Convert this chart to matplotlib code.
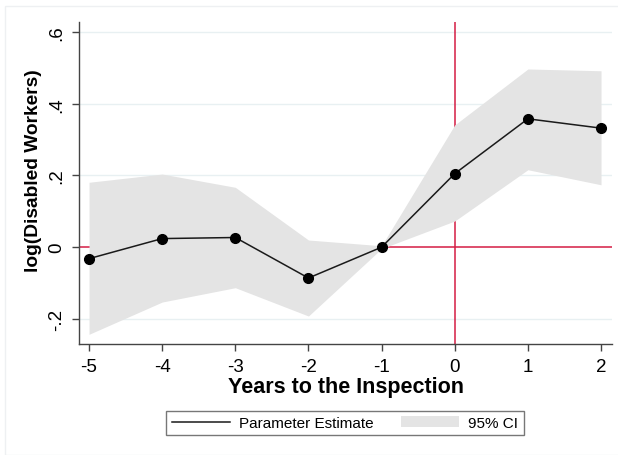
import numpy as np
import matplotlib as mpl
mpl.use('Agg')
from matplotlib import pyplot as plt
from matplotlib.patches import Patch
from matplotlib.lines import Line2D

# ------------------- Data -------------------
years = [-5, -4, -3, -2, -1, 0, 1, 2]
estimate = [-0.032, 0.024, 0.027, -0.086, 0.0, 0.205, 0.358, 0.332]
ci_upper = [0.181, 0.204, 0.167, 0.020, 0.004, 0.341, 0.497, 0.492]
ci_lower = [-0.243, -0.153, -0.113, -0.192, -0.004, 0.073, 0.216, 0.174]
ytick_vals = [-0.2, 0, 0.2, 0.4, 0.6]
ytick_labels = ['-.2', '0', '.2', '.4', '.6']

plt.rcParams['font.family'] = ['Liberation Sans', 'DejaVu Sans']

fig = plt.figure(figsize=(6.18, 4.56), dpi=100)
fig.patch.set_facecolor('white')
# faint outer graph region frame
fig.add_artist(plt.Rectangle((5 / 618, 0.0), 1.0, 1 - 7 / 456, transform=fig.transFigure,
                             fill=False, edgecolor='#eef0f2', linewidth=1.0))

ax = fig.add_axes([79 / 618, 111 / 456, 533 / 618, 322 / 456])

red = '#d41c44'
for y in [-0.2, 0.2, 0.4, 0.6]:
    ax.axhline(y, color='#e8f0f2', linewidth=1.0, zorder=0)
ax.axhline(0, color=red, linewidth=1.1, zorder=1)
ax.axvline(0, color=red, linewidth=1.1, zorder=1)

ax.fill_between(years, ci_lower, ci_upper, color='#e4e4e4', linewidth=0, zorder=2)
ax.plot(years, estimate, color='#1a1a1a', linewidth=1.1, marker='o',
        markersize=7, markerfacecolor='black', markeredgecolor='black', zorder=3)

ax.set_xlim(-5.137, 2.15)
ax.set_ylim(-0.27, 0.628)
ax.set_xticks(years)
ax.set_xticklabels([str(v) for v in years])
ax.set_yticks(ytick_vals)
ax.set_yticklabels(ytick_labels, rotation=90, va='center')

for s in ['top', 'right']:
    ax.spines[s].set_visible(False)
for s in ['left', 'bottom']:
    ax.spines[s].set_color('#444444')
    ax.spines[s].set_linewidth(1.0)
ax.tick_params(axis='both', labelsize=13.5, length=5, color='#444444', width=1.0, pad=5)

ax.set_xlabel('Years to the Inspection', fontsize=15.5, fontweight='bold', labelpad=1)
ax.set_ylabel('log(Disabled Workers)', fontsize=13.8, fontweight='bold')
ax.yaxis.set_label_coords(-0.069, 0.54)

handles = [Line2D([0], [0], color='#1a1a1a', linewidth=1.1),
           Patch(facecolor='#e4e4e4', edgecolor='none')]
leg = fig.legend(handles, ['Parameter Estimate', '95% CI'], loc='center',
                 bbox_to_anchor=(345 / 618, 1 - 424 / 456), ncol=2, fontsize=11,
                 frameon=True, fancybox=False, handlelength=3.8, columnspacing=1.8,
                 borderpad=0.35, handletextpad=0.6)
leg.get_frame().set_edgecolor('#555555')
leg.get_frame().set_linewidth(1.0)

plt.savefig('out.png', dpi=100)
